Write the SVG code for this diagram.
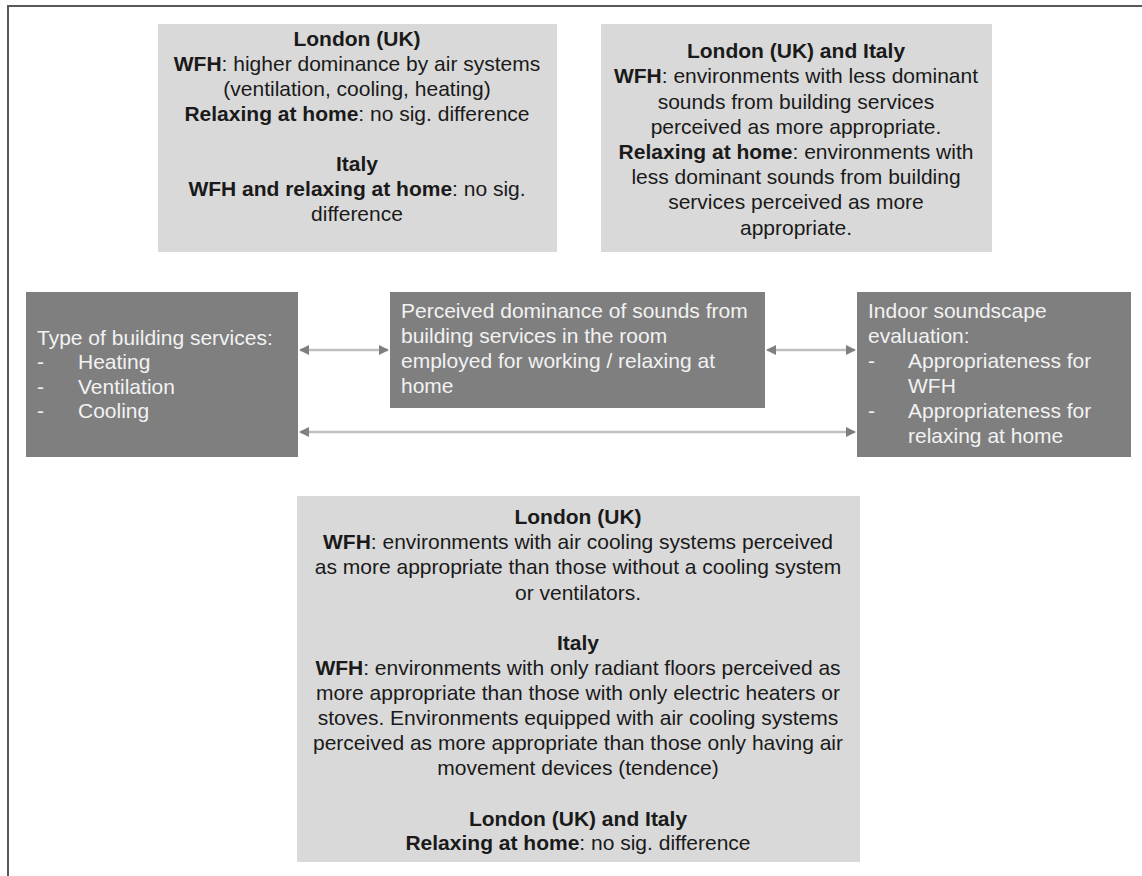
<svg xmlns="http://www.w3.org/2000/svg" width="1142" height="876" viewBox="0 0 1142 876">
<style>
text{font-family:"Liberation Sans",Arial,sans-serif;font-size:21px}
.lt{fill:#d9d9d9}
.dk{fill:#7f7f7f}
.c{text-anchor:middle;fill:#1a1a1a}
.w{fill:#f2f2f2}
.b{font-weight:bold}
.conn{stroke:#bfbfbf;stroke-width:2.5;fill:none;marker-start:url(#ah);marker-end:url(#ah)}
</style>
<defs>
<marker id="ah" viewBox="0 0 10 10" refX="9" refY="5" markerWidth="4" markerHeight="4" orient="auto-start-reverse" markerUnits="strokeWidth">
<path d="M0,0 L10,5 L0,10 z" fill="#7f7f7f"/>
</marker>
</defs>
<rect width="1142" height="876" fill="#fff"/>
<path d="M8,876 V6 H1142" stroke="#595959" stroke-width="2" fill="none"/>

<g id="top-left">
<rect class="lt" x="158" y="24" width="399" height="228"/>
<text class="c" x="357" y="46"><tspan class="b">London (UK)</tspan></text>
<text class="c" x="357" y="71"><tspan class="b">WFH</tspan>: higher dominance by air systems</text>
<text class="c" x="357" y="96">(ventilation, cooling, heating)</text>
<text class="c" x="357" y="121"><tspan class="b">Relaxing at home</tspan>: no sig. difference</text>
<text class="c" x="357" y="171"><tspan class="b">Italy</tspan></text>
<text class="c" x="357" y="196"><tspan class="b">WFH and relaxing at home</tspan>: no sig.</text>
<text class="c" x="357" y="221">difference</text>
</g>

<g id="top-right">
<rect class="lt" x="601" y="24" width="391" height="228"/>
<text class="c" x="796" y="58"><tspan class="b">London (UK) and Italy</tspan></text>
<text class="c" x="796" y="83"><tspan class="b">WFH</tspan>: environments with less dominant</text>
<text class="c" x="796" y="109">sounds from building services</text>
<text class="c" x="796" y="134">perceived as more appropriate.</text>
<text class="c" x="796" y="159"><tspan class="b">Relaxing at home</tspan>: environments with</text>
<text class="c" x="796" y="184">less dominant sounds from building</text>
<text class="c" x="796" y="209">services perceived as more</text>
<text class="c" x="796" y="235">appropriate.</text>
</g>

<g id="building-services">
<rect class="dk" x="26" y="292" width="272" height="165"/>
<text class="w" x="37" y="345">Type of building services:</text>
<text class="w" x="37" y="369">-</text><text class="w" x="78" y="369">Heating</text>
<text class="w" x="37" y="394">-</text><text class="w" x="78" y="394">Ventilation</text>
<text class="w" x="37" y="418">-</text><text class="w" x="78" y="418">Cooling</text>
</g>

<g id="perceived-dominance">
<rect class="dk" x="390" y="292" width="375" height="116"/>
<text class="w" x="401" y="318">Perceived dominance of sounds from</text>
<text class="w" x="401" y="343">building services in the room</text>
<text class="w" x="401" y="368">employed for working / relaxing at</text>
<text class="w" x="401" y="393">home</text>
</g>

<g id="soundscape-evaluation">
<rect class="dk" x="857" y="292" width="274" height="165"/>
<text class="w" x="868" y="318">Indoor soundscape</text>
<text class="w" x="868" y="343">evaluation:</text>
<text class="w" x="868" y="368">-</text><text class="w" x="908" y="368">Appropriateness for</text>
<text class="w" x="908" y="393">WFH</text>
<text class="w" x="868" y="418">-</text><text class="w" x="908" y="418">Appropriateness for</text>
<text class="w" x="908" y="443">relaxing at home</text>
</g>

<g id="connectors">
<line class="conn" x1="300" y1="350" x2="388" y2="350"/>
<line class="conn" x1="767" y1="350" x2="855" y2="350"/>
<line class="conn" x1="300" y1="432" x2="855" y2="432"/>
</g>

<g id="bottom">
<rect class="lt" x="297" y="496" width="563" height="366"/>
<text class="c" x="578" y="524"><tspan class="b">London (UK)</tspan></text>
<text class="c" x="578" y="549"><tspan class="b">WFH</tspan>: environments with air cooling systems perceived</text>
<text class="c" x="578" y="574">as more appropriate than those without a cooling system</text>
<text class="c" x="578" y="600">or ventilators.</text>
<text class="c" x="578" y="650"><tspan class="b">Italy</tspan></text>
<text class="c" x="578" y="675"><tspan class="b">WFH</tspan>: environments with only radiant floors perceived as</text>
<text class="c" x="578" y="700">more appropriate than those with only electric heaters or</text>
<text class="c" x="578" y="725">stoves. Environments equipped with air cooling systems</text>
<text class="c" x="578" y="750">perceived as more appropriate than those only having air</text>
<text class="c" x="578" y="775">movement devices (tendence)</text>
<text class="c" x="578" y="826"><tspan class="b">London (UK) and Italy</tspan></text>
<text class="c" x="578" y="850"><tspan class="b">Relaxing at home</tspan>: no sig. difference</text>
</g>
</svg>
